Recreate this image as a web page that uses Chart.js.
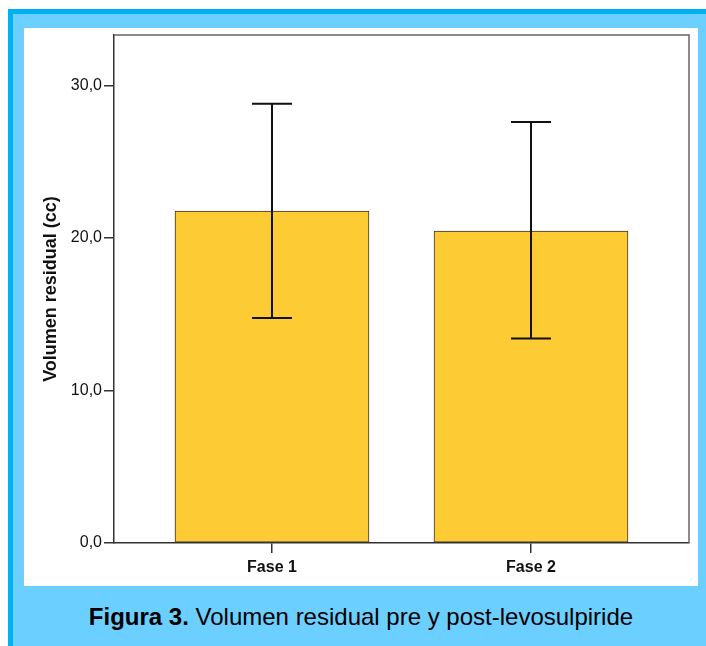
<!DOCTYPE html>
<html>
<head>
<meta charset="utf-8">
<script src="https://cdn.jsdelivr.net/npm/chart.js@4"></script>
<style>
  html, body { margin: 0; padding: 0; background: #fff; }
  #frame {
    position: absolute; left: 8px; top: 9px; width: 698px; height: 637px;
    background: #6BCFFF; box-sizing: border-box;
    border-left: 5px solid #00B0F0; border-top: 5px solid #00B0F0;
  }
  #panel {
    position: absolute; left: 24px; top: 28px; width: 674px; height: 558px; background: #fff;
  }
  #caption {
    position: absolute; left: 24px; width: 674px; top: 602px; height: 30px; line-height: 30px;
    text-align: center; font-family: "Liberation Sans", Arial, sans-serif; font-size: 24px; color: #000;
  }
</style>
</head>
<body>
<div id="frame"></div>
<div id="panel"><canvas id="chart" width="674" height="558"></canvas></div>
<div id="caption"><b>Figura 3.</b> Volumen residual pre y post-levosulpiride</div>
<script>
// datos
const categories = ['Fase 1', 'Fase 2'];
const positions = [1, 2];
const means = [21.75, 20.45];
const lower = [14.75, 13.4];
const upper = [28.8, 27.6];
const yTicks = [0, 10, 20, 30];

const fmt = v => v.toFixed(1).replace('.', ',');

// marco superior y derecho del area del grafico
const framePlugin = {
  id: 'framePlugin',
  beforeDatasetsDraw(chart) {
    const { ctx, chartArea: a } = chart;
    ctx.save();
    ctx.strokeStyle = '#666';
    ctx.lineWidth = 1.5;
    ctx.beginPath();
    ctx.moveTo(a.left, a.top);
    ctx.lineTo(a.right, a.top);
    ctx.lineTo(a.right, a.bottom);
    ctx.stroke();
    ctx.restore();
  }
};

// barras de error
const errorBars = {
  id: 'errorBars',
  afterDatasetsDraw(chart) {
    const { ctx, scales: { x, y } } = chart;
    ctx.save();
    ctx.strokeStyle = '#111';
    ctx.lineWidth = 2;
    positions.forEach((p, i) => {
      const px = x.getPixelForValue(p);
      const lo = y.getPixelForValue(lower[i]);
      const hi = y.getPixelForValue(upper[i]);
      ctx.beginPath();
      ctx.moveTo(px, lo); ctx.lineTo(px, hi);
      ctx.moveTo(px - 20, lo); ctx.lineTo(px + 20, lo);
      ctx.moveTo(px - 20, hi); ctx.lineTo(px + 20, hi);
      ctx.stroke();
    });
    ctx.restore();
  }
};

const ctx = document.getElementById('chart').getContext('2d');
const chart = new Chart(ctx, {
  type: 'bar',
  data: {
    datasets: [{
      data: positions.map((p, i) => ({ x: p, y: means[i] })),
      backgroundColor: '#FDCB33',
      borderColor: '#333',
      borderWidth: 1,
      borderSkipped: false,
      barThickness: 194
    }]
  },
  plugins: [framePlugin, errorBars],
  options: {
    responsive: false,
    devicePixelRatio: 1,
    animation: false,
    layout: { padding: { left: 0, top: 7, right: 9, bottom: 0 } },
    plugins: { legend: { display: false }, tooltip: { enabled: false } },
    scales: {
      x: {
        type: 'linear',
        min: 0.39,
        max: 2.61,
        offset: false,
        afterBuildTicks: s => { s.ticks = positions.map(v => ({ value: v })); },
        afterFit: s => { s.height = 43; s.paddingLeft = 0; s.paddingRight = 0; },
        grid: { offset: false, drawOnChartArea: false, drawTicks: true, tickLength: 10, color: '#333', lineWidth: 1.5 },
        border: { display: true, color: '#333', width: 1.5 },
        ticks: {
          padding: 5,
          color: '#111',
          font: { family: '"Liberation Sans", Arial, sans-serif', size: 16, weight: 'bold' },
          callback: v => categories[positions.indexOf(v)]
        }
      },
      y: {
        min: 0,
        max: 33.3,
        afterBuildTicks: s => { s.ticks = yTicks.map(v => ({ value: v })); },
        afterFit: s => { s.width = 90; s.paddingTop = 0; s.paddingBottom = 0; },
        grid: { drawOnChartArea: false, drawTicks: true, tickLength: 10, color: '#333', lineWidth: 1.5 },
        border: { display: true, color: '#333', width: 1.5 },
        ticks: {
          padding: 2,
          color: '#111',
          font: { family: '"Liberation Sans", Arial, sans-serif', size: 16 },
          callback: v => fmt(v)
        },
        title: {
          display: true,
          text: 'Volumen residual (cc)',
          color: '#111',
          padding: { top: 16, bottom: 0 },
          font: { family: '"Liberation Sans", Arial, sans-serif', size: 18, weight: 'bold' }
        }
      }
    }
  }
});
</script>
</body>
</html>
